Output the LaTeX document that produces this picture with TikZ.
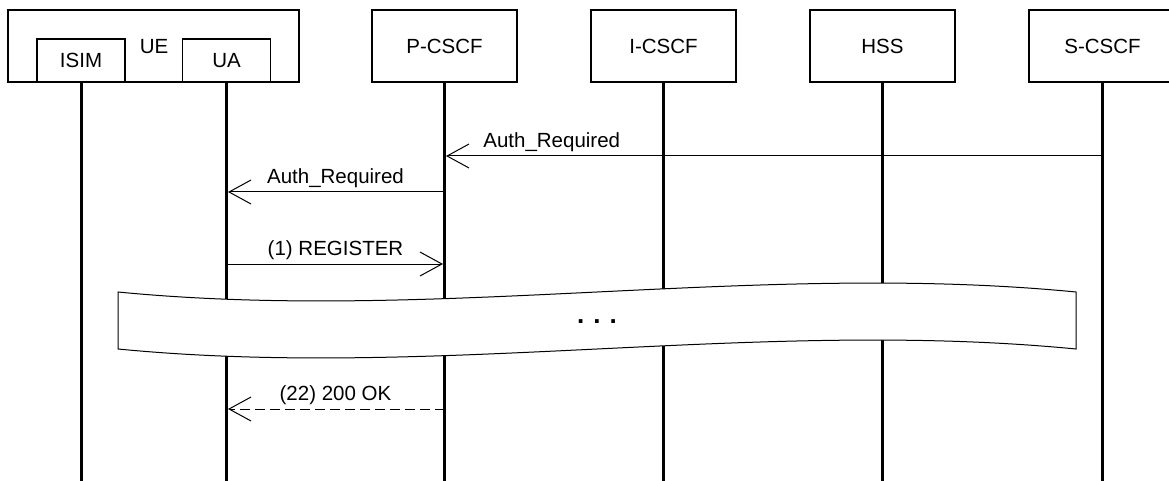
\documentclass[tikz,border=0pt]{standalone}
\usepackage{fontspec}
\setmainfont{Liberation Sans}
\usetikzlibrary{arrows.meta, positioning}

\begin{document}
\begin{tikzpicture}[
  x=1pt, y=-1pt,
  node distance=72.5pt,
  every node/.style={font=\fontsize{20.5}{24}\selectfont},
  headbox/.style={
    rectangle, draw, line width=1.5pt,
    minimum width=145pt, minimum height=72pt, inner sep=0pt,
  },
  subbox/.style={
    rectangle, draw, line width=1.5pt,
    minimum width=88pt, minimum height=43pt, inner sep=0pt,
  },
  lifeline/.style={line width=3pt},
  msg/.style={line width=1pt, shorten >=1.5pt, -{Straight Barb[length=22pt, width=24pt]}},
  reply/.style={msg, dash pattern=on 10pt off 5pt},
  lbl/.style={above},
]
\useasboundingbox (0,0) rectangle (1169,481);

% Entities
\node[headbox, minimum width=291pt] (ue) at (153.5,46) {};
\node (ue_title) at (154,47) {UE};
\node[subbox] (isim) at (81,60.5) {ISIM};
\node[subbox] (ua) at (226.5,60.5) {UA};
\node[headbox] (pcscf) at (444.5,46) {P-CSCF};
\node[headbox, right=of pcscf] (icscf) {I-CSCF};
\node[headbox, right=of icscf] (hss) {HSS};
\node[headbox, minimum width=147pt, right=of hss] (scscf) {S-CSCF};

% Lifelines
\coordinate (bottom) at (0,481);
\foreach \n in {isim, ua, pcscf, icscf, hss, scscf}
  \draw[lifeline] (\n.south) -- (\n.south |- bottom);

% Messages
\coordinate (m1) at (0,156);
\coordinate (m2) at (0,192);
\coordinate (m3) at (0,264);
\coordinate (m4) at (0,409);

\draw[msg] (scscf.south |- m1) -- (pcscf.south |- m1)
  node[lbl, pos=0.837] {Auth\_Required};
\draw[msg] (pcscf.south |- m2) -- (ua.south |- m2)
  node[lbl, midway] {Auth\_Required};
\draw[msg] (ua.south |- m3) -- (pcscf.south |- m3)
  node[lbl, midway] {(1) REGISTER};

% Skipped part
\draw[line width=1pt, fill=white]
  (118,292) .. controls (437,323) and (757,261) .. (1076,292)
  -- (1076,349) .. controls (757,318) and (437,380) .. (118,349) -- cycle;
\node[font=\fontsize{26}{30}\selectfont\bfseries] (dots) at (597,322) {.\hspace{9pt}.\hspace{9pt}.};

\draw[reply] (pcscf.south |- m4) -- (ua.south |- m4)
  node[lbl, midway] {(22) 200 OK};

\end{tikzpicture}
\end{document}
